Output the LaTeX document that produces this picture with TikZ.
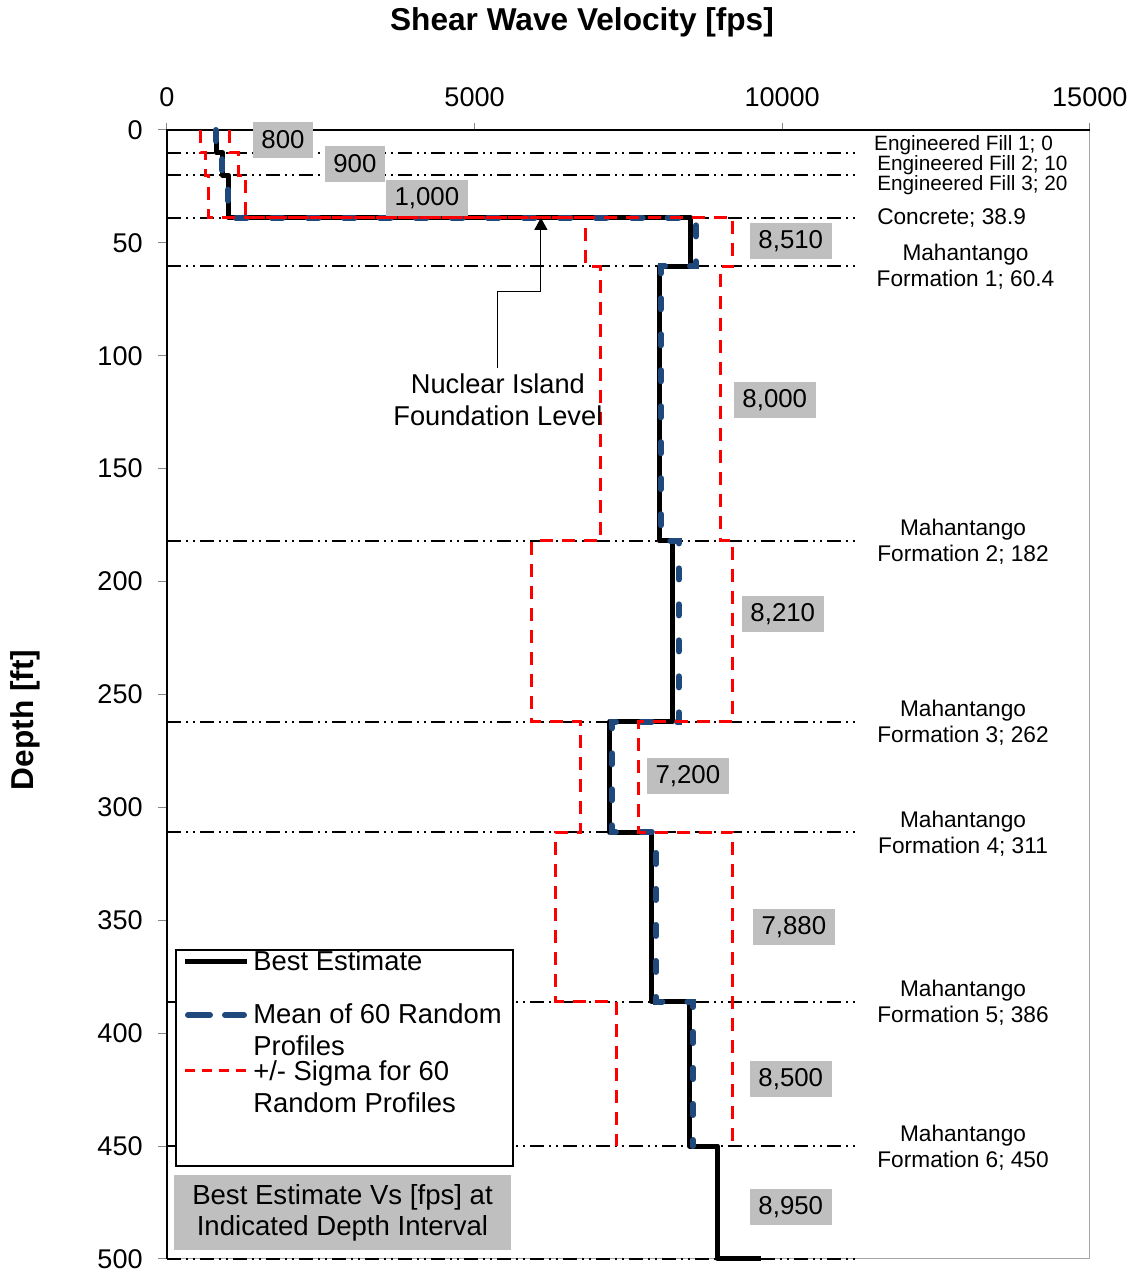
\documentclass[tikz,border=0pt]{standalone}
\usepackage{fontspec}
\setmainfont{Liberation Sans}
\usepackage{tikz}
\usetikzlibrary{arrows.meta}
\definecolor{meanblue}{RGB}{31,73,125}
\definecolor{boxgray}{RGB}{191,191,191}
\definecolor{framegray}{RGB}{166,166,166}
\definecolor{tickgray}{RGB}{134,134,134}

\tikzset{
  layerline/.style={line width=0.04cm,dash pattern=on 0.28cm off 0.1cm on 0.04cm off 0.1cm on 0.04cm off 0.1cm},
  best/.style={line width=0.1cm,line join=round},
  mean/.style={meanblue,line width=0.12cm,line cap=round,dash pattern=on 0.22cm off 0.5cm},
  sigma/.style={red,line width=0.06cm,dash pattern=on 0.26cm off 0.18cm},
  vsbox/.style={fill=boxgray,inner xsep=0.17cm,inner ysep=0pt,minimum height=0.73cm,font=\fontsize{14.7}{17}\selectfont},
  layerlbl/.style={align=center,inner sep=0pt,font=\fontsize{12.9}{14.8}\selectfont},
  filllbl/.style={anchor=west,inner sep=0pt,font=\fontsize{11.8}{13}\selectfont},
  ticklbl/.style={font=\fontsize{15.4}{18}\selectfont},
  legtxt/.style={anchor=west,align=left,inner sep=0pt,font=\fontsize{15.6}{18}\selectfont}
}

\begin{document}
\begin{tikzpicture}[x=0.02cm,y=-0.02cm]
\useasboundingbox (0,0) rectangle (1135,1272);

\node[font=\fontsize{18}{21}\selectfont\bfseries] (title) at (582,22) {Shear Wave Velocity [fps]};
\node[rotate=90,font=\fontsize{18}{21}\selectfont\bfseries] (depthlbl) at (25,720) {Depth [ft]};

% plot area: x in 1000 fps, y in ft
\begin{scope}[xshift=3.34cm,yshift=-2.6cm,x=1.23066cm,y=-0.04516cm]
  \draw[framegray,line width=0.02cm] (0,0) rectangle (15,500);
  \foreach \vx/\lbl in {0/0,5/5000,10/10000,15/15000}{
    \draw[tickgray,line width=0.02cm] (\vx,0) -- (\vx,-3.1);
    \node[ticklbl] (xt\vx) at (\vx,-14.6) {\lbl};
  }
  \foreach \d in {0,50,...,500}{
    \draw[tickgray,line width=0.02cm] (0,\d) -- (-0.146,\d);
    \node[ticklbl,anchor=east,inner xsep=0pt] (yt\d) at (-0.39,\d) {\d};
  }
  \draw[line width=0.025cm] (0,500) -- (0,0) -- (15,0);

  \foreach \d in {0,10,20,38.9,60.4,182,262,311,386,450,500}
    \draw[layerline] (0,\d) -- (11.25,\d);

  % best estimate
  \draw[best] (0.8,0) -- (0.8,10) -- (0.9,10) -- (0.9,20) -- (1.0,20) -- (1.0,38.9)
    -- (8.51,38.9) -- (8.51,60.4) -- (8.0,60.4) -- (8.0,182) -- (8.21,182) -- (8.21,262)
    -- (7.2,262) -- (7.2,311) -- (7.88,311) -- (7.88,386) -- (8.5,386) -- (8.5,450)
    -- (8.95,450) -- (8.95,500) -- (9.65,500);
  % mean of random profiles
  \draw[mean] (0.79,0) -- (0.79,10) -- (0.9,10) -- (0.9,20) -- (0.99,20) -- (0.99,38.9)
    -- (8.6,38.9) -- (8.6,60.4) -- (8.03,60.4) -- (8.03,182) -- (8.32,182) -- (8.32,262)
    -- (7.23,262) -- (7.23,311) -- (7.95,311) -- (7.95,386) -- (8.55,386) -- (8.55,450);
  % +/- sigma
  \draw[sigma] (0.54,0) -- (0.54,10) -- (0.62,10) -- (0.62,20) -- (0.68,20) -- (0.68,38.9)
    -- (6.81,38.9) -- (6.81,60.4) -- (7.04,60.4) -- (7.04,182) -- (5.93,182) -- (5.93,262)
    -- (6.72,262) -- (6.72,311) -- (6.32,311) -- (6.32,386) -- (7.3,386) -- (7.3,450);
  \draw[sigma] (1.02,0) -- (1.02,10) -- (1.16,10) -- (1.16,20) -- (1.28,20) -- (1.28,38.9)
    -- (9.2,38.9) -- (9.2,60.4) -- (8.99,60.4) -- (8.99,182) -- (9.2,182) -- (9.2,262)
    -- (7.67,262) -- (7.67,311) -- (9.2,311) -- (9.2,450);

  % Vs of each interval
  \node[vsbox] (vs1) at (1.885,4.43) {800};
  \node[vsbox] (vs2) at (3.055,15.06) {900};
  \node[vsbox] (vs3) at (4.225,30.1) {1,000};
  \node[vsbox] (vs4) at (10.14,49.2) {8,510};
  \node[vsbox] (vs5) at (9.88,119.6) {8,000};
  \node[vsbox] (vs6) at (10.01,214.3) {8,210};
  \node[vsbox] (vs7) at (8.467,286.1) {7,200};
  \node[vsbox] (vs8) at (10.19,353) {7,880};
  \node[vsbox] (vs9) at (10.14,420.3) {8,500};
  \node[vsbox] (vs10) at (10.14,477) {8,950};

  % layer names
  \node[filllbl] (lblEF1) at (11.49,6.64) {Engineered Fill 1; 0};
  \node[filllbl] (lblEF2) at (11.54,15.5) {Engineered Fill 2; 10};
  \node[filllbl] (lblEF3) at (11.54,24.4) {Engineered Fill 3; 20};
  \node[layerlbl,anchor=west] (lblConc) at (11.54,39) {Concrete; 38.9};
  \node[layerlbl] (lblMF1) at (12.98,60.7) {Mahantango\\Formation 1; 60.4};
  \node[layerlbl] (lblMF2) at (12.94,182.5) {Mahantango\\Formation 2; 182};
  \node[layerlbl] (lblMF3) at (12.94,262.6) {Mahantango\\Formation 3; 262};
  \node[layerlbl] (lblMF4) at (12.94,311.6) {Mahantango\\Formation 4; 311};
  \node[layerlbl] (lblMF5) at (12.94,386.6) {Mahantango\\Formation 5; 386};
  \node[layerlbl] (lblMF6) at (12.94,450.8) {Mahantango\\Formation 6; 450};

  \node[align=center,font=\fontsize{15.5}{18.2}\selectfont] (nifl) at (5.379,119.6) {Nuclear Island\\Foundation Level};
  \coordinate (niflBend) at (6.078,71.7);
  \coordinate (niflTip) at (6.078,38.9);
  \draw[line width=0.02cm,-{Triangle[length=0.24cm,width=0.26cm]}] (nifl.north) |- (niflBend) -- (niflTip);
\end{scope}

% legend
\node[draw,line width=0.04cm,fill=white,minimum width=6.74cm,minimum height=4.32cm] (legend) at (344.5,1058) {};
\draw[best] (185,961) -- (247,961);
\node[legtxt] (legBest) at (253,961) {Best Estimate};
\draw[mean,dash pattern=on 0.44cm off 0.3cm] (188,1015) -- (244,1015);
\node[legtxt] (legMean) at (253,1030) {Mean of 60 Random\\Profiles};
\draw[sigma,dash pattern=on 0.2cm off 0.14cm] (185,1070) -- (247,1070);
\node[legtxt] (legSigma) at (253,1086.5) {+/- Sigma for 60\\Random Profiles};

\node[fill=boxgray,minimum width=6.74cm,minimum height=1.5cm,align=center,font=\fontsize{15.7}{17.6}\selectfont] (note) at (342.5,1212.5) {Best Estimate Vs [fps] at\\Indicated Depth Interval};
\end{tikzpicture}
\end{document}
